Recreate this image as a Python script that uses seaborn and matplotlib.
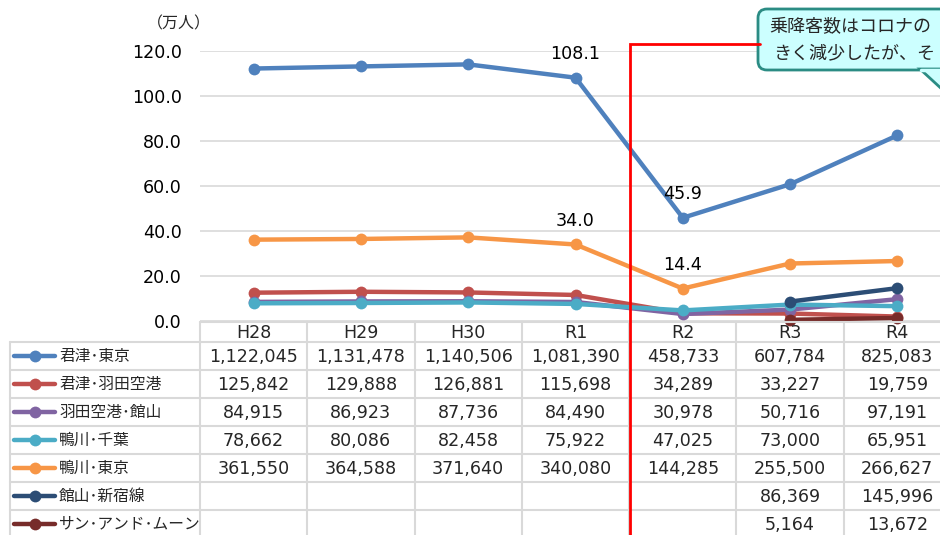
import numpy as np
import pandas as pd
import matplotlib
matplotlib.use("Agg")
import matplotlib.pyplot as plt
import matplotlib.transforms as mtransforms
from matplotlib.patches import FancyBboxPatch, Polygon
from matplotlib.lines import Line2D
import seaborn as sns

# ---------------- data ----------------
years = ["H28", "H29", "H30", "R1", "R2", "R3", "R4"]
routes = ["君津・東京", "君津・羽田空港", "羽田空港・館山", "鴨川・千葉",
          "鴨川・東京", "館山・新宿線", "サン・アンド・ムーン"]
kimitsu_tokyo = [1122045, 1131478, 1140506, 1081390, 458733, 607784, 825083]
kimitsu_haneda = [125842, 129888, 126881, 115698, 34289, 33227, 19759]
haneda_tateyama = [84915, 86923, 87736, 84490, 30978, 50716, 97191]
kamogawa_chiba = [78662, 80086, 82458, 75922, 47025, 73000, 65951]
kamogawa_tokyo = [361550, 364588, 371640, 340080, 144285, 255500, 266627]
tateyama_shinjuku = [None, None, None, None, None, 86369, 145996]
sun_and_moon = [None, None, None, None, None, 5164, 13672]
series = [kimitsu_tokyo, kimitsu_haneda, haneda_tateyama, kamogawa_chiba,
          kamogawa_tokyo, tateyama_shinjuku, sun_and_moon]
colors = ["#4f81bd", "#c0504d", "#8064a2", "#4bacc6", "#f79646", "#2c4d75", "#772c2a"]
yticks = [0, 20, 40, 60, 80, 100, 120]
unit_label = "（万人）"
callout_lines = ["乗降客数はコロナの", "きく減少したが、そ"]
# data labels: (route index, year index)
labelled = [(0, 3), (0, 4), (4, 3), (4, 4)]

rows = []
for r, vals in zip(routes, series):
    for i, v in enumerate(vals):
        if v is not None:
            rows.append({"route": r, "idx": i, "value": v / 10000.0})
df = pd.DataFrame(rows)

# ---------------- figure ----------------
sns.set_style("white")
plt.rcParams["font.family"] = ["Noto Sans CJK JP", "DejaVu Sans"]
NUM_FONT = ["DejaVu Sans"]
NUM_SIZE = 12.6

W, H = 940, 535
fig = plt.figure(figsize=(W / 100, H / 100), dpi=100)

# main plot area in pixel coordinates (extends past right edge, as cropped)
left_px, right_px, top_px, bot_px = 200, 951, 51, 321
ax = fig.add_axes([left_px / W, (H - bot_px) / H, (right_px - left_px) / W,
                   (bot_px - top_px) / H])
ax.patch.set_alpha(0)

sns.lineplot(data=df, x="idx", y="value", hue="route", hue_order=routes,
             palette=dict(zip(routes, colors)), marker="o", markersize=8.5,
             markeredgewidth=0, linewidth=3.2, legend=False, sort=False,
             ax=ax, clip_on=False)

ax.set_xlim(-0.5, len(years) - 0.5)
ax.set_ylim(0, 120)
ax.set_yticks(yticks)
ax.set_yticklabels([f"{t:.1f}" for t in yticks], fontsize=NUM_SIZE,
                   fontfamily=NUM_FONT, color="#000000")
ax.set_xticks([])
ax.set_xlabel("")
ax.set_ylabel("")
ax.tick_params(axis="y", length=0, pad=13)
for s in ax.spines.values():
    s.set_visible(False)
ax.grid(axis="y", color="#d9d9d9", linewidth=1.2)
ax.set_axisbelow(True)

for ri, yi in labelled:
    v = series[ri][yi] / 10000.0
    ax.annotate(f"{v:.1f}", (yi, v), xytext=(0, 17), textcoords="offset points",
                ha="center", va="center", fontsize=NUM_SIZE, family=NUM_FONT,
                color="#000000")

# ---------------- overlay (pixel coords) ----------------
ov = fig.add_axes([0, 0, 1, 1])
ov.set_xlim(0, W)
ov.set_ylim(H, 0)
ov.axis("off")
ov.patch.set_alpha(0)
bt = mtransforms.blended_transform_factory(ax.transData, ov.transData)

ov.text(179, 24, unit_label, fontsize=11.5, ha="center", va="center")

grid_c = "#d9d9d9"
hdr_top, row_top, row_h = 322, 342, 28
n_rows = len(routes)
bottom = row_top + row_h * n_rows

# table grid
ov.plot([left_px, W + 20], [hdr_top, hdr_top], color=grid_c, lw=1.5, clip_on=False)
for k in range(n_rows + 1):
    y = row_top + k * row_h
    ov.plot([10, W + 20], [y, y], color=grid_c, lw=1.5, clip_on=False)
ov.plot([10, 10], [row_top, bottom], color=grid_c, lw=1.5, clip_on=False)
for i in range(len(years) + 1):
    ov.plot([i - 0.5, i - 0.5], [hdr_top, bottom], color=grid_c, lw=1.5,
            transform=bt, clip_on=False)

# header labels
for i, yr in enumerate(years):
    ov.text(i, (hdr_top + row_top) / 2 + 1, yr, transform=bt, ha="center",
            va="center", fontsize=NUM_SIZE, family=NUM_FONT)

# rows
for k, (r, vals, c) in enumerate(zip(routes, series, colors)):
    yc = row_top + k * row_h + row_h / 2
    ov.add_line(Line2D([14, 55], [yc, yc], color=c, lw=3.2))
    ov.plot([34.5], [yc], marker="o", color=c, markersize=8.5, markeredgewidth=0)
    ov.text(59, yc, r.replace("・", "･"), ha="left", va="center", fontsize=11.3)
    for i, v in enumerate(vals):
        if v is not None:
            ov.text(i, yc + 1, f"{v:,}", transform=bt, ha="center", va="center",
                    fontsize=NUM_SIZE, family=NUM_FONT)

# red frame line
ov.plot([630, 630, 760], [H + 5, 44, 44], color="#ff0000", lw=2,
        solid_joinstyle="miter", clip_on=False)

# callout
box = FancyBboxPatch((758, 9), 220, 61, boxstyle="round,pad=0,rounding_size=9",
                     facecolor="#ccffff", edgecolor="#2b8c84", lw=2, clip_on=False)
ov.add_patch(box)
tail = Polygon([[920, 69], [945, 92], [945, 69]], closed=True,
               facecolor="#ccffff", edgecolor="#2b8c84", lw=2, clip_on=False)
ov.add_patch(tail)
ov.plot([921, 944], [69.5, 69.5], color="#ccffff", lw=2.5, clip_on=False)
ov.text(769, 27, callout_lines[0], fontsize=13, ha="left", va="center")
ov.text(773, 53, callout_lines[1], fontsize=13, ha="left", va="center")

fig.savefig("out.png", dpi=100)
